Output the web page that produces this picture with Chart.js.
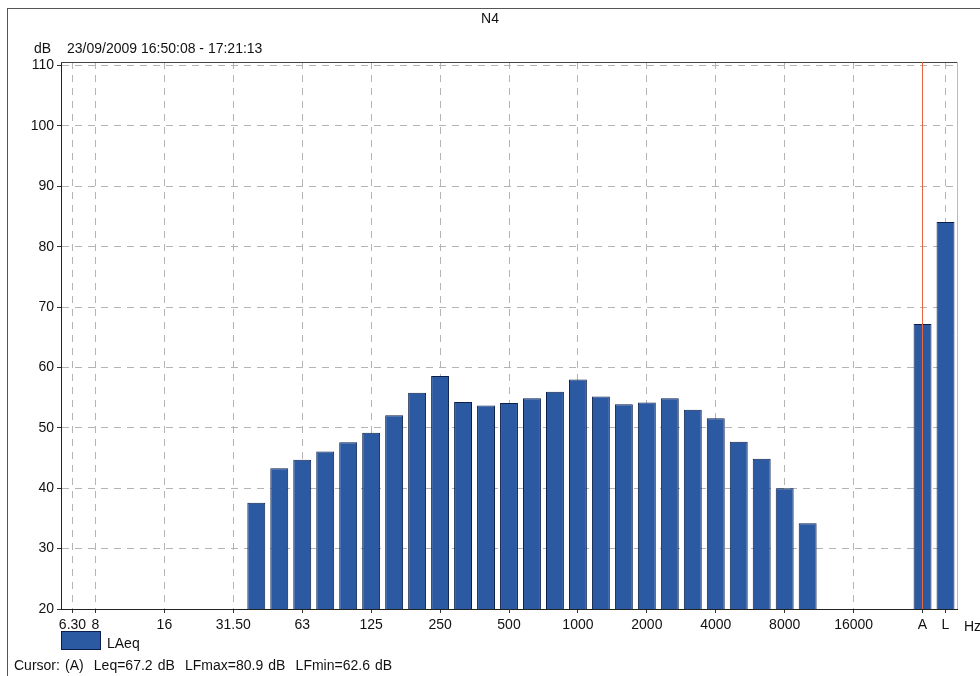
<!DOCTYPE html>
<html>
<head>
<meta charset="utf-8">
<script src="https://cdn.jsdelivr.net/npm/chart.js@4/dist/chart.umd.min.js"></script>
<style>
  html, body { margin: 0; padding: 0; background: #fff; }
  body { width: 980px; height: 676px; position: relative; overflow: hidden;
         font-family: "Liberation Sans", Arial, sans-serif; color: #111; }
  #frame { position: absolute; left: 7px; top: 8px; width: 990px; height: 700px;
           border-top: 1px solid #555; border-left: 1px solid #555; }
  #wrap { position: absolute; left: 0; top: 0; width: 980px; height: 676px; }
  .txt { position: absolute; font-size: 14px; white-space: pre; line-height: 16px; }
  #legendBox { position: absolute; left: 61px; top: 631px; width: 38px; height: 17px;
               background: #2b5aa3; border: 1px solid #0b1f4a; }
</style>
</head>
<body>
<div id="frame"></div>
<div id="wrap"><canvas id="c" width="980" height="676"></canvas></div>
<div class="txt" id="title" style="left:0;width:980px;text-align:center;top:10px;"></div>
<div class="txt" id="unit" style="left:34px;top:40px;"></div>
<div class="txt" id="period" style="left:67px;top:40px;"></div>
<div class="txt" id="hz" style="left:964px;top:618px;"></div>
<div id="legendBox"></div>
<div class="txt" id="legendText" style="left:107px;top:635px;"></div>
<div class="txt" id="cursor" style="left:14px;top:657px;word-spacing:1.2px;"></div>
<script>
// One-third octave bands, then a spacer slot and the A / L overall levels
const bands = ['6.3','8','10','12.5','16','20','25','31.5','40','50','63','80','100','125',
  '160','200','250','315','400','500','630','800','1000','1250','1600','2000','2500','3150',
  '4000','5000','6300','8000','10000','12500','16000','20000','','A','L'];

// Labels printed under the axis (octave marks + A, L)
const tickLabels = ['6.30','8','','','16','','','31.50','','','63','','','125',
  '','','250','','','500','','','1000','','','2000','','',
  '4000','','','8000','','','16000','','','A','L'];

// LAeq per band, dB
const laeq = [null,null,null,null,null,null,null,null,
  37.6,43.3,44.7,46.1,47.6,49.2,52.1,55.8,58.6,54.3,53.7,54.1,54.9,56.0,58.0,
  55.2,53.9,54.2,54.9,53.0,51.6,47.7,44.9,40.0,34.2,
  null,null,null,null,67.2,84.1];

const yTicks = [20,30,40,50,60,70,80,90,100,110];

const cursorBand = 'A';
const seriesName = 'LAeq';
const titleText = 'N4';
const unitText = 'dB';
const periodText = '23/09/2009 16:50:08 - 17:21:13';
const cursorText = 'Cursor: (A)  Leq=67.2 dB  LFmax=80.9 dB  LFmin=62.6 dB';

document.getElementById('title').textContent = titleText;
document.getElementById('unit').textContent = unitText;
document.getElementById('period').textContent = periodText;
document.getElementById('hz').textContent = 'Hz';
document.getElementById('legendText').textContent = seriesName;
document.getElementById('cursor').textContent = cursorText;

const BAR = '#2b5aa3';
const GRID = '#b4b4b4';
const cursorIndex = bands.indexOf(cursorBand);

// Plot frame (top/right) and the cursor line
const extras = {
  id: 'extras',
  beforeDatasetsDraw(chart) {
    const {ctx, chartArea: a} = chart;
    ctx.save();
    ctx.lineWidth = 1;
    ctx.strokeStyle = '#444';
    ctx.beginPath(); ctx.moveTo(a.left, a.top + 0.5); ctx.lineTo(a.right, a.top + 0.5); ctx.stroke();
    ctx.strokeStyle = '#bbb';
    ctx.beginPath(); ctx.moveTo(a.right + 0.5, a.top); ctx.lineTo(a.right + 0.5, a.bottom); ctx.stroke();
    ctx.restore();
  },
  afterDatasetsDraw(chart) {
    const {ctx, chartArea: a} = chart;
    const x = Math.floor(chart.scales.x.getPixelForValue(cursorIndex)) + 0.5;
    ctx.save();
    ctx.strokeStyle = '#e8643c';
    ctx.lineWidth = 1;
    ctx.beginPath(); ctx.moveTo(x, a.top); ctx.lineTo(x, a.bottom); ctx.stroke();
    ctx.restore();
  }
};

const shown = i => tickLabels[i] && i !== cursorIndex;

new Chart(document.getElementById('c'), {
  type: 'bar',
  data: {
    labels: bands,
    datasets: [{
      label: seriesName,
      data: laeq,
      backgroundColor: BAR,
      borderColor: '#0b1f4a',
      borderWidth: 1,
      barPercentage: 0.78,
      categoryPercentage: 1.0
    }]
  },
  options: {
    responsive: false,
    animation: false,
    events: [],
    layout: { padding: { left: 0, right: 23, top: 62, bottom: 0 } },
    plugins: { legend: { display: false }, tooltip: { enabled: false } },
    scales: {
      x: {
        offset: true,
        grid: {
          offset: false,
          color: c => shown(c.index) ? GRID : 'rgba(0,0,0,0)',
          tickColor: c => tickLabels[c.index] ? '#333' : 'rgba(0,0,0,0)',
          tickLength: 4,
          lineWidth: 1
        },
        border: { display: true, color: '#222', width: 1, dash: [7, 6] },
        ticks: {
          autoSkip: false, maxRotation: 0, minRotation: 0, padding: 4,
          color: '#111',
          font: { family: 'Liberation Sans', size: 14 },
          callback: (v, i) => tickLabels[i]
        },
        afterFit: s => { s.height = 67; }
      },
      y: {
        min: 20, max: 110.6,
        afterBuildTicks: s => { s.ticks = yTicks.map(v => ({ value: v })); },
        grid: { color: GRID, tickColor: '#333', tickLength: 4, lineWidth: 1 },
        border: { display: true, color: '#222', width: 1, dash: [7, 6] },
        ticks: {
          padding: 3, color: '#111',
          font: { family: 'Liberation Sans', size: 14 }
        },
        afterFit: s => { s.width = 61; }
      }
    }
  },
  plugins: [extras]
});
</script>
</body>
</html>
